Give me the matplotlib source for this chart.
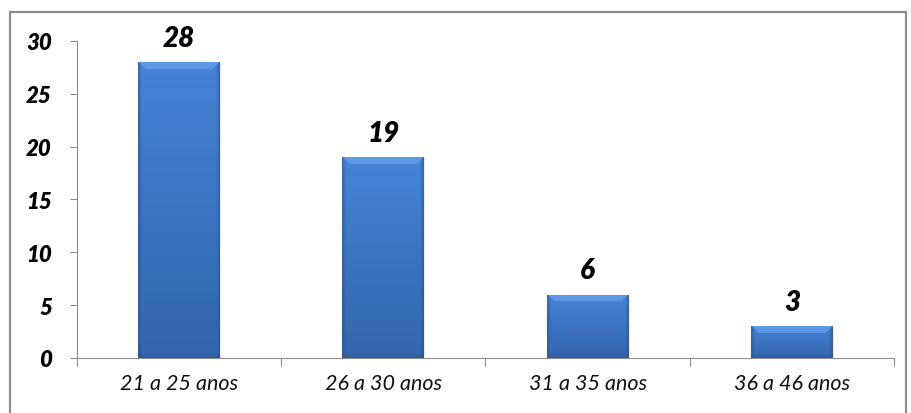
import numpy as np
import matplotlib.pyplot as plt
from matplotlib.patches import Rectangle
from matplotlib.colors import to_rgb

categorias = ["21 a 25 anos", "26 a 30 anos", "31 a 35 anos", "36 a 46 anos"]
valores = [28, 19, 6, 3]
y_ticks = [0, 5, 10, 15, 20, 25, 30]

plt.rcParams['font.family'] = ['Lato', 'DejaVu Sans']

fig = plt.figure(figsize=(9.12, 4.14), dpi=100)
ax = fig.add_axes([0.0844, 0.1329, 0.8958, 0.7657])

# moldura cinza em volta do gráfico
fig.patches.append(Rectangle((10 / 912, -0.05), 896 / 912, 1.05 - 13 / 414,
                             transform=fig.transFigure, fill=False,
                             edgecolor="#8c8c8c", linewidth=1.6))

ax.set_xlim(-0.5, len(categorias) - 0.5)
ax.set_ylim(0, 30)

x = np.arange(len(categorias))
barras = ax.bar(x, valores, width=0.4, color="#3c78c6", edgecolor="none",
                linewidth=0, zorder=2)

topo_c = np.array(to_rgb("#4484d6"))
base_c = np.array(to_rgb("#3465ad"))
bisel_c = np.array(to_rgb("#6aa4ec"))
borda_c = np.array(to_rgb("#284f8a"))

for b in barras:
    bx, by = b.get_x(), b.get_y()
    bw, bh = b.get_width(), b.get_height()
    (px0, py0), (px1, py1) = ax.transData.transform([(bx, by), (bx + bw, by + bh)])
    wpx, hpx = int(round(px1 - px0)), int(round(py1 - py0))
    xs = np.arange(wpx) + 0.5
    ys = np.arange(hpx) + 0.5  # distância ao topo, em pixels
    X, Y = np.meshgrid(xs, ys)
    t = (Y / max(hpx, 1))[..., None]
    img = topo_c * (1 - t) + base_c * t
    # bordas laterais escuras
    lado = np.minimum(X, wpx - X)
    f = np.clip(1 - lado / 4.0, 0, 1)[..., None]
    img = img * (1 - f * 0.6) + borda_c * f * 0.6
    # faixa inferior mais escura
    fb = np.clip(1 - (hpx - Y) / 5.0, 0, 1)[..., None]
    img = img * (1 - fb * 0.5) + borda_c * fb * 0.5
    # bisel claro no topo
    mask = (Y < 7) & (Y < lado)
    img[mask] = img[mask] * 0.35 + bisel_c * 0.65
    # sombra suave
    ax.add_patch(Rectangle((bx + bw * 0.015, by), bw, bh - 0.1, facecolor="#000000",
                           alpha=0.08, linewidth=0, zorder=1.5))
    im = ax.imshow(img, aspect="auto", extent=[bx, bx + bw, by, by + bh],
                   zorder=2.5, interpolation="bilinear")
    im.set_clip_path(b)

for xi, v in zip(x, valores):
    ax.annotate(str(v), (xi, v), xytext=(0, 8), textcoords="offset points",
                ha="center", va="bottom", fontsize=20, fontweight="heavy",
                fontstyle="italic", color="black")

ax.set_yticks(y_ticks)
ax.set_yticklabels([str(t) for t in y_ticks], fontsize=16, fontweight="heavy", fontstyle="italic")
ax.set_xticks(x)
ax.set_xticklabels(categorias, fontsize=15.5, fontstyle="italic", color="#111111")
ax.set_xticks(np.arange(-0.5, len(categorias)), minor=True)
ax.tick_params(axis="x", which="major", length=0, pad=11)
ax.tick_params(axis="x", which="minor", length=6, color="#8c8c8c", width=0.8)
ax.tick_params(axis="y", length=5, color="#8c8c8c", width=0.8, pad=13)

for s in ["top", "right"]:
    ax.spines[s].set_visible(False)
for s in ["left", "bottom"]:
    ax.spines[s].set_color("#8c8c8c")
    ax.spines[s].set_linewidth(0.8)

fig.savefig("out.png", dpi=100)
